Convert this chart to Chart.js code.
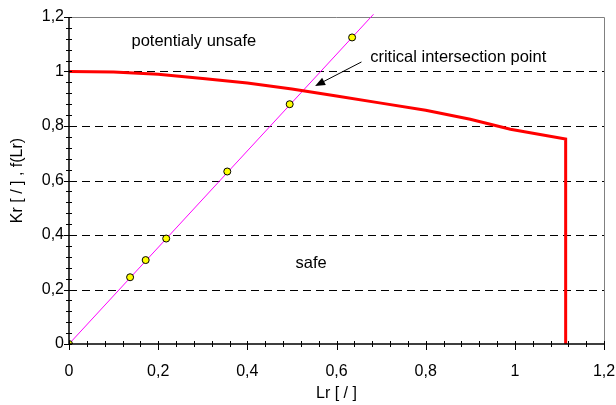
<!DOCTYPE html>
<html>
<head>
<meta charset="utf-8">
<script src="https://cdn.jsdelivr.net/npm/chart.js@4"></script>
<style>
  html, body { margin: 0; padding: 0; background: #fff; }
  #wrap { width: 616px; height: 405px; }
</style>
</head>
<body>
<div id="wrap"><canvas id="fad"></canvas></div>
<script>
// courbe FAD f(Lr)
const lrCurve = [0, 0.1, 0.2, 0.3, 0.4, 0.5, 0.6, 0.7, 0.8, 0.9, 0.99, 1.114, 1.114];
const fCurve = [1.0, 0.998, 0.99, 0.974, 0.958, 0.936, 0.91, 0.884, 0.858, 0.825, 0.788, 0.752, 0];

// droite de charge
const lrLine = [0, 0.683];
const krLine = [0, 1.21];

// points calculés
const lrPts = [0, 0.137, 0.172, 0.218, 0.355, 0.495, 0.635];
const krPts = [0, 0.245, 0.308, 0.387, 0.633, 0.880, 1.125];

const xTicks = [0, 0.2, 0.4, 0.6, 0.8, 1, 1.2];
const yTicks = [0, 0.2, 0.4, 0.6, 0.8, 1, 1.2];

const fontFam = "'Liberation Sans', Arial, sans-serif";
const fmt = v => String(Math.round(v * 10) / 10).replace('.', ',');

const toXY = (xs, ys) => xs.map((x, i) => ({ x: x, y: ys[i] }));

// axes, grille, cadre, textes
const decor = {
    id: 'decor',
    beforeDatasetsDraw(chart) {
        const { ctx, chartArea: a, scales: { x, y } } = chart;
        ctx.save();
        // grille pointillée
        ctx.strokeStyle = '#000';
        ctx.lineWidth = 1;
        ctx.setLineDash([8, 5]);
        yTicks.forEach(v => {
            if (v === 0 || v === 1.2) return;
            const py = Math.round(y.getPixelForValue(v)) + 0.5;
            ctx.beginPath();
            ctx.moveTo(a.left, py);
            ctx.lineTo(a.right, py);
            ctx.stroke();
        });
        ctx.setLineDash([]);
        // cadre gris
        ctx.strokeStyle = '#808080';
        ctx.beginPath();
        ctx.moveTo(a.left, a.top + 0.5);
        ctx.lineTo(a.right + 0.5, a.top + 0.5);
        ctx.lineTo(a.right + 0.5, a.bottom);
        ctx.stroke();
        ctx.restore();
    },
    afterDatasetsDraw(chart) {
        const { ctx, chartArea: a, scales: { x, y } } = chart;
        ctx.save();
        ctx.strokeStyle = '#000';
        ctx.lineWidth = 1.5;
        ctx.beginPath();
        ctx.moveTo(a.left, a.top);
        ctx.lineTo(a.left, a.bottom);
        ctx.lineTo(a.right, a.bottom);
        ctx.stroke();
        ctx.lineWidth = 1;
        // graduations
        for (let i = 0; i <= 30; i++) {
            const v = i * 0.04;
            const major = i % 5 === 0;
            const px = Math.round(x.getPixelForValue(v)) + 0.5;
            ctx.beginPath();
            ctx.moveTo(px, a.bottom - 3);
            ctx.lineTo(px, a.bottom + (major ? 6 : 3));
            ctx.stroke();
            const py = Math.round(y.getPixelForValue(v)) + 0.5;
            ctx.beginPath();
            ctx.moveTo(a.left + 3, py);
            ctx.lineTo(a.left - (major ? 5 : 3), py);
            ctx.stroke();
        }
        // textes
        ctx.fillStyle = '#000';
        ctx.font = '16.5px ' + fontFam;
        ctx.textAlign = 'center';
        ctx.textBaseline = 'middle';
        ctx.fillText('potentialy unsafe', x.getPixelForValue(0.28), y.getPixelForValue(1.111));
        ctx.fillText('safe', x.getPixelForValue(0.543), y.getPixelForValue(0.295));
        ctx.fillText('critical intersection point', x.getPixelForValue(0.873), y.getPixelForValue(1.05));
        // flèche
        const x0 = x.getPixelForValue(0.656), y0 = y.getPixelForValue(1.035);
        const x1 = x.getPixelForValue(0.552), y1 = y.getPixelForValue(0.947);
        const ang = Math.atan2(y1 - y0, x1 - x0);
        ctx.beginPath();
        ctx.moveTo(x0, y0);
        ctx.lineTo(x1 - 8 * Math.cos(ang), y1 - 8 * Math.sin(ang));
        ctx.stroke();
        ctx.beginPath();
        ctx.moveTo(x1, y1);
        ctx.lineTo(x1 - 10 * Math.cos(ang) + 4 * Math.sin(ang), y1 - 10 * Math.sin(ang) - 4 * Math.cos(ang));
        ctx.lineTo(x1 - 10 * Math.cos(ang) - 4 * Math.sin(ang), y1 - 10 * Math.sin(ang) + 4 * Math.cos(ang));
        ctx.closePath();
        ctx.fill();
        ctx.restore();
    }
};

new Chart(document.getElementById('fad'), {
    type: 'scatter',
    data: {
        datasets: [
            {
                label: 'points',
                data: toXY(lrPts, krPts),
                backgroundColor: '#ffff00',
                borderColor: '#000',
                borderWidth: 1,
                pointRadius: 3.5,
                order: 0
            },
            {
                label: 'f(Lr)',
                type: 'line',
                data: toXY(lrCurve, fCurve),
                borderColor: '#ff0000',
                borderWidth: 3,
                pointRadius: 0,
                tension: 0,
                fill: false,
                order: 1
            },
            {
                label: 'Kr',
                type: 'line',
                data: toXY(lrLine, krLine),
                borderColor: '#ff00ff',
                borderWidth: 1,
                pointRadius: 0,
                tension: 0,
                fill: false,
                clip: false,
                order: 2
            }
        ]
    },
    options: {
        responsive: true,
        maintainAspectRatio: false,
        animation: false,
        layout: { padding: { top: 17, right: 12, left: 0, bottom: 0 } },
        plugins: { legend: { display: false }, tooltip: { enabled: false } },
        scales: {
            x: {
                type: 'linear',
                min: 0, max: 1.2,
                afterFit: s => { s.height = 61; s.paddingLeft = 0; s.paddingRight = 0; },
                afterBuildTicks: s => { s.ticks = xTicks.map(v => ({ value: v })); },
                grid: { display: false, drawTicks: false },
                border: { display: false },
                ticks: {
                    padding: 18,
                    color: '#000',
                    font: { family: fontFam, size: 16 },
                    callback: v => fmt(v)
                },
                title: {
                    display: true,
                    text: 'Lr [ / ]',
                    color: '#000',
                    font: { family: fontFam, size: 16 },
                    padding: { top: 0, bottom: 2 }
                }
            },
            y: {
                type: 'linear',
                min: 0, max: 1.2,
                afterFit: s => { s.width = 69; s.paddingTop = 0; s.paddingBottom = 0; },
                afterBuildTicks: s => { s.ticks = yTicks.map(v => ({ value: v })); },
                grid: { display: false, drawTicks: false },
                border: { display: false },
                ticks: {
                    padding: 5,
                    color: '#000',
                    font: { family: fontFam, size: 16 },
                    callback: v => fmt(v)
                },
                title: {
                    display: true,
                    text: 'Kr [ / ] , f(Lr)',
                    color: '#000',
                    font: { family: fontFam, size: 16 },
                    padding: { top: 8, bottom: 0 }
                }
            }
        }
    },
    plugins: [decor]
});
</script>
</body>
</html>
